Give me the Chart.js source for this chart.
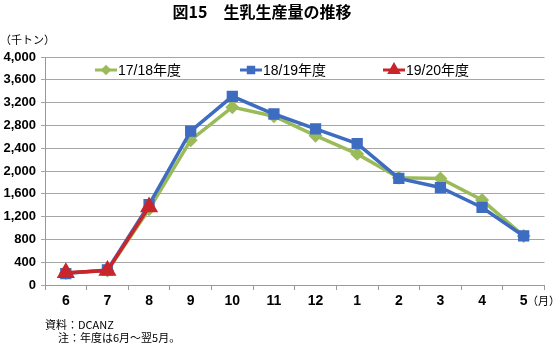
<!DOCTYPE html>
<html>
<head>
<meta charset="utf-8">
<script src="https://cdn.jsdelivr.net/npm/chart.js@4.4.1/dist/chart.umd.min.js"></script>
<style>
html, body { margin: 0; padding: 0; background: #fff; }
</style>
</head>
<body>
<canvas id="milkChart" width="555" height="346"></canvas>
<script>
const months = ["6", "7", "8", "9", "10", "11", "12", "1", "2", "3", "4", "5"];
const fy1718 = [210, 255, 1330, 2540, 3120, 2960, 2620, 2300, 1880, 1870, 1490, 860];
const fy1819 = [200, 265, 1410, 2700, 3310, 3000, 2740, 2480, 1870, 1710, 1360, 860];
const fy1920 = [215, 255, 1370, null, null, null, null, null, null, null, null, null];
const seriesNames = ["17/18年度", "18/19年度", "19/20年度"];

const FONT = '"Liberation Sans", "Noto Sans CJK JP", sans-serif';
const JP = '"Noto Sans CJK JP", "Liberation Sans", sans-serif';

// text outside the plot + legend inside the plot area
const extras = {
  id: "extras",
  afterDraw(chart) {
    const c = chart.ctx;
    c.save();
    c.fillStyle = "#000";
    c.textBaseline = "middle";

    c.font = "bold 16px " + JP;
    c.textAlign = "center";
    c.fillText("図15　生乳生産量の推移", 262, 12);

    c.textAlign = "left";
    c.font = "11px " + JP;
    c.fillText("（千トン）", 0, 40);
    c.fillText("（月）", 527, 301);
    c.fillText("資料：DCANZ", 45, 325);
    c.fillText("注：年度は6月～翌5月。", 58, 338);

    // legend
    const items = [
      { x: 95, ds: chart.data.datasets[0] },
      { x: 240, ds: chart.data.datasets[1] },
      { x: 383, ds: chart.data.datasets[2] }
    ];
    const y = 70;
    items.forEach(it => {
      c.strokeStyle = it.ds.borderColor;
      c.lineWidth = 3;
      c.beginPath();
      c.moveTo(it.x, y);
      c.lineTo(it.x + 22, y);
      c.stroke();
      Chart.helpers.drawPoint(c, {
        pointStyle: it.ds.pointStyle,
        radius: it.ds.pointRadius * 0.7,
        borderWidth: 1
      }, it.x + 11, y);
      c.fillStyle = it.ds.borderColor;
      c.fill();
      c.fillStyle = "#000";
      c.font = "14px " + FONT;
      c.fillText(it.ds.label, it.x + 23, y + 1);
    });
    c.restore();
  }
};

new Chart(document.getElementById("milkChart").getContext("2d"), {
  type: "line",
  data: {
    labels: months,
    datasets: [
      {
        label: seriesNames[0],
        data: fy1718,
        borderColor: "#9bbb59",
        backgroundColor: "#9bbb59",
        borderWidth: 3.5,
        pointStyle: "rectRot",
        pointRadius: 4.5,
        order: 3
      },
      {
        label: seriesNames[1],
        data: fy1819,
        borderColor: "#3d6cc0",
        backgroundColor: "#3d6cc0",
        borderWidth: 3.5,
        pointStyle: "rect",
        pointRadius: 5.5,
        order: 2
      },
      {
        label: seriesNames[2],
        data: fy1920,
        borderColor: "#c8262c",
        backgroundColor: "#c8262c",
        borderWidth: 3.5,
        pointStyle: "triangle",
        pointRadius: 7,
        order: 1
      }
    ]
  },
  options: {
    responsive: false,
    animation: false,
    layout: {
      padding: { top: 57, right: 10, bottom: 36, left: 0 }
    },
    plugins: {
      legend: { display: false },
      tooltip: { enabled: false },
      title: { display: false }
    },
    scales: {
      x: {
        offset: true,
        grid: {
          offset: true,
          drawOnChartArea: false,
          drawTicks: true,
          tickLength: 5,
          color: "#999"
        },
        border: { color: "#999" },
        ticks: {
          padding: 3,
          color: "#000",
          font: { family: FONT, size: 14, weight: "bold" }
        },
        afterFit(scale) { scale.height = 25; }
      },
      y: {
        min: 0,
        max: 4000,
        grid: {
          color: "#a6a6a6",
          tickLength: 4
        },
        border: { color: "#999" },
        ticks: {
          stepSize: 400,
          padding: 5,
          color: "#000",
          font: { family: FONT, size: 13, weight: "bold" }
        },
        afterFit(scale) { scale.width = 45; }
      }
    }
  },
  plugins: [extras]
});
</script>
</body>
</html>
